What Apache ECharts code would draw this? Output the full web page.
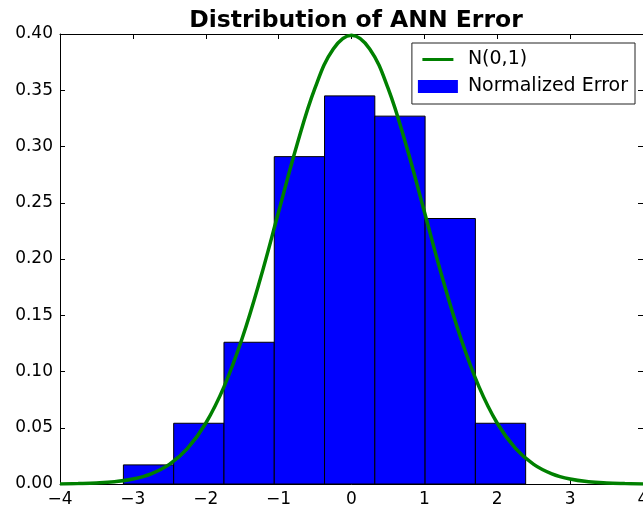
<!DOCTYPE html>
<html>
<head>
<meta charset="utf-8">
<script src="https://cdn.jsdelivr.net/npm/echarts@6/dist/echarts.min.js"></script>
<style>html,body{margin:0;padding:0;background:#fff;}#c{width:643px;height:508px;}</style>
</head>
<body>
<div id="c"></div>
<script>
// Histogram bin edges and densities
var binEdges = [-3.13, -2.44, -1.75, -1.06, -0.37, 0.32, 1.01, 1.70, 2.39];
var binDensity = [0.017, 0.054, 0.126, 0.291, 0.345, 0.327, 0.236, 0.054];
// N(0,1) curve points
var curveX = [-4, -3.75, -3.5, -3.25, -3, -2.75, -2.5, -2.25, -2, -1.75, -1.5, -1.25, -1, -0.75, -0.5, -0.25, 0, 0.25, 0.5, 0.75, 1, 1.25, 1.5, 1.75, 2, 2.25, 2.5, 2.75, 3, 3.25, 3.5, 3.75, 4];
var curveY = [0.0001, 0.0004, 0.0009, 0.0020, 0.0044, 0.0091, 0.0175, 0.0317, 0.0540, 0.0863, 0.1295, 0.1826, 0.2420, 0.3011, 0.3521, 0.3867, 0.3989, 0.3867, 0.3521, 0.3011, 0.2420, 0.1826, 0.1295, 0.0863, 0.0540, 0.0317, 0.0175, 0.0091, 0.0044, 0.0020, 0.0009, 0.0004, 0.0001];
var xTicks = [-4, -3, -2, -1, 0, 1, 2, 3, 4];
var yTicks = ['0.00', '0.05', '0.10', '0.15', '0.20', '0.25', '0.30', '0.35', '0.40'];

var histData = binDensity.map(function (d, i) { return [binEdges[i], binEdges[i + 1], d]; });
var curveData = curveX.map(function (x, i) { return [x, curveY[i]]; });

var FONT = 'DejaVu Sans';
var chart = echarts.init(document.getElementById('c'), null, {renderer: 'canvas'});
function axisCommon() {
  return {
    axisLine: {show: true, onZero: false, lineStyle: {color: '#000', width: 1}},
    axisTick: {show: true, inside: true, length: 5, lineStyle: {color: '#000', width: 1}},
    splitLine: {show: false}
  };
}
chart.setOption({
  animation: false,
  backgroundColor: '#fff',
  title: {
    text: 'Distribution of ANN Error',
    left: 351, top: 4, textAlign: 'center',
    textStyle: {fontFamily: FONT, fontWeight: 'bold', fontSize: 23.5, color: '#000'}
  },
  legend: {
    right: 8, top: 43,
    orient: 'vertical',
    align: 'left',
    backgroundColor: '#fff',
    borderColor: '#222', borderWidth: 1, borderRadius: 0,
    padding: [7, 7, 8, 6],
    itemWidth: 40, itemHeight: 13, itemGap: 8,
    textStyle: {fontFamily: FONT, fontSize: 19, color: '#000', padding: [0, 0, 0, 5]},
    data: [
      {name: 'N(0,1)', icon: 'path://M0,0 L0,0 M40,13 L40,13 M4.5,5 L35.5,5 L35.5,8 L4.5,8 Z'},
      {name: 'Normalized Error', icon: 'rect'}
    ]
  },
  grid: {left: 60, right: 0, top: 34, bottom: 24, show: false, containLabel: false, outerBoundsMode: 'none'},
  xAxis: [
    Object.assign({
      type: 'value', min: -4, max: 4, interval: 1, position: 'bottom',
      axisLabel: {show: true, fontFamily: FONT, fontSize: 17, color: '#000', margin: 7,
        formatter: function (v) { return String(v).replace('-', '\u2212'); }}
    }, axisCommon()),
    Object.assign({
      type: 'value', min: -4, max: 4, interval: 1, position: 'top',
      axisLabel: {show: false}
    }, axisCommon())
  ],
  yAxis: [
    Object.assign({
      type: 'value', min: 0, max: 0.4, interval: 0.05, position: 'left',
      axisLabel: {show: true, fontFamily: FONT, fontSize: 17, color: '#000', margin: 7,
        formatter: function (v) { return yTicks[Math.round(v / 0.05)]; }}
    }, axisCommon()),
    Object.assign({
      type: 'value', min: 0, max: 0.4, interval: 0.05, position: 'right',
      axisLabel: {show: false}
    }, axisCommon())
  ],
  series: [
    {
      name: 'Normalized Error',
      type: 'custom',
      xAxisIndex: 0, yAxisIndex: 0,
      itemStyle: {color: '#0000ff'},
      renderItem: function (params, api) {
        var p0 = api.coord([api.value(0), api.value(2)]);
        var p1 = api.coord([api.value(1), 0]);
        return {
          type: 'rect',
          shape: {x: p0[0], y: p0[1], width: p1[0] - p0[0], height: p1[1] - p0[1]},
          style: {fill: '#0000ff', stroke: '#000', lineWidth: 1}
        };
      },
      encode: {x: [0, 1], y: 2},
      data: histData,
      z: 2
    },
    {
      name: 'N(0,1)',
      type: 'line',
      xAxisIndex: 0, yAxisIndex: 0,
      data: curveData,
      smooth: 0.4,
      showSymbol: false,
      symbol: 'none',
      lineStyle: {color: '#008000', width: 3.5},
      itemStyle: {color: '#008000'},
      z: 3
    }
  ]
});
</script>
</body>
</html>
